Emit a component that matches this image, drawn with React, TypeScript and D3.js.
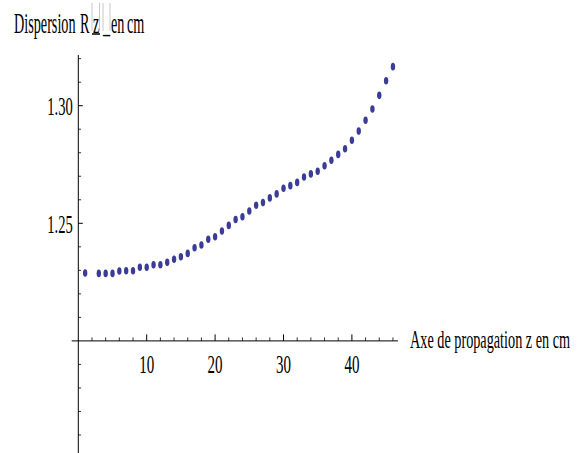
import React from "react";
import * as d3 from "d3";

const zValues = [1, 3, 4, 5, 6, 7, 8, 9, 10, 11, 12, 13, 14, 15, 16, 17, 18, 19, 20, 21, 22, 23, 24, 25, 26, 27, 28, 29, 30, 31, 32, 33, 34, 35, 36, 37, 38, 39, 40, 41, 42, 43, 44, 45, 46];
const rValues = [1.2289, 1.2287, 1.2287, 1.2287, 1.2297, 1.2298, 1.2298, 1.2313, 1.2313, 1.2324, 1.2324, 1.2334, 1.2347, 1.2358, 1.2372, 1.2396, 1.2408, 1.2432, 1.2443, 1.2467, 1.2491, 1.2516, 1.2528, 1.2552, 1.2577, 1.2588, 1.2608, 1.2625, 1.2649, 1.2660, 1.2674, 1.2697, 1.2710, 1.2721, 1.2745, 1.2768, 1.2793, 1.2817, 1.2853, 1.2892, 1.2938, 1.2986, 1.3044, 1.3106, 1.3166];

const xMajorTicks = [10, 20, 30, 40];
const xMinorTicks = [2, 4, 6, 8, 12, 14, 16, 18, 22, 24, 26, 28, 32, 34, 36, 38, 42, 44, 46];
const yMajorTicks = [1.25, 1.3];
const yMajorLabels = ["1.25", "1.30"];
const yMinorTicks = [1.16, 1.17, 1.18, 1.19, 1.21, 1.22, 1.23, 1.24, 1.26, 1.27, 1.28, 1.29, 1.31, 1.32];

const yTitle = ["Dispersion", "R", "z", "_", "en", "cm"];
const xTitle = "Axe de propagation z en cm";

const font = "'Liberation Serif', 'Times New Roman', serif";

function SText(props: { x: number; y: number; sx: number; size: number; anchor?: string; children: React.ReactNode }) {
  return (
    <text
      transform={`translate(${props.x},${props.y}) scale(${props.sx},1)`}
      fontFamily={font}
      fontSize={props.size}
      textAnchor={props.anchor || "start"}
      fill="#000"
    >
      {props.children}
    </text>
  );
}

export default function App() {
  const x = d3.scaleLinear().domain([0, 10]).range([78.3, 146.7]);
  const y = d3.scaleLinear().domain([1.2, 1.25]).range([340.9, 223.3]);
  const dotColor = "#3b3b98";
  const x0 = x(0);
  const y0 = y(1.2);

  const tsx = 0.49;
  const titleParts = [
    { t: yTitle[0], x: 14 },
    { t: yTitle[1], x: 80 },
    { t: yTitle[2], x: 93 },
    { t: yTitle[3], x: 103 },
    { t: yTitle[4], x: 111 },
    { t: yTitle[5], x: 127 },
  ];

  return (
    <svg width={582} height={453} style={{ position: "absolute", left: 0, top: 0, background: "#fff" }}>
      {/* title artifacts */}
      {[92, 99.5, 103, 110].map((lx, i) => (
        <line key={"g" + i} x1={lx} x2={lx} y1={3} y2={31} stroke="#c8c8c8" strokeWidth={1} />
      ))}
      <text transform={`translate(0,33) scale(${tsx},1)`} fontFamily={font} fontSize={29} fill="#000">
        {titleParts.map((p, i) => (
          <tspan key={"t" + i} x={p.x / tsx}>
            {p.t}
          </tspan>
        ))}
      </text>
      <line x1={92} x2={100} y1={34} y2={34} stroke="#000" strokeWidth={1.5} />

      {/* axes */}
      <line x1={71.7} x2={398} y1={y0} y2={y0} stroke="#000" strokeWidth={1} />
      <line x1={x0} x2={x0} y1={55} y2={453} stroke="#000" strokeWidth={1} />

      {xMajorTicks.map((t) => (
        <g key={"xm" + t}>
          <line x1={x(t)} x2={x(t)} y1={y0} y2={y0 - 6.5} stroke="#000" strokeWidth={1} />
          <SText x={x(t)} y={373} sx={0.6} size={25} anchor="middle">
            {String(t)}
          </SText>
        </g>
      ))}
      {xMinorTicks.map((t) => (
        <line key={"xn" + t} x1={x(t)} x2={x(t)} y1={y0} y2={y0 - 3.5} stroke="#000" strokeWidth={0.8} />
      ))}
      {yMajorTicks.map((t, i) => (
        <g key={"ym" + t}>
          <line x1={x0} x2={x0 + 4.5} y1={y(t)} y2={y(t)} stroke="#000" strokeWidth={1} />
          <SText x={47.3} y={y(t) + 9.5} sx={0.56} size={26}>
            {yMajorLabels[i]}
          </SText>
        </g>
      ))}
      {yMinorTicks.map((t) => (
        <line key={"yn" + t} x1={x0} x2={x0 + 2.8} y1={y(t)} y2={y(t)} stroke="#000" strokeWidth={0.8} />
      ))}

      <SText x={410} y={348} sx={0.57} size={25}>
        {xTitle}
      </SText>

      {zValues.map((z, i) => (
        <ellipse key={"p" + i} cx={x(z)} cy={y(rValues[i])} rx={2.2} ry={3.8} fill={dotColor} />
      ))}
    </svg>
  );
}
